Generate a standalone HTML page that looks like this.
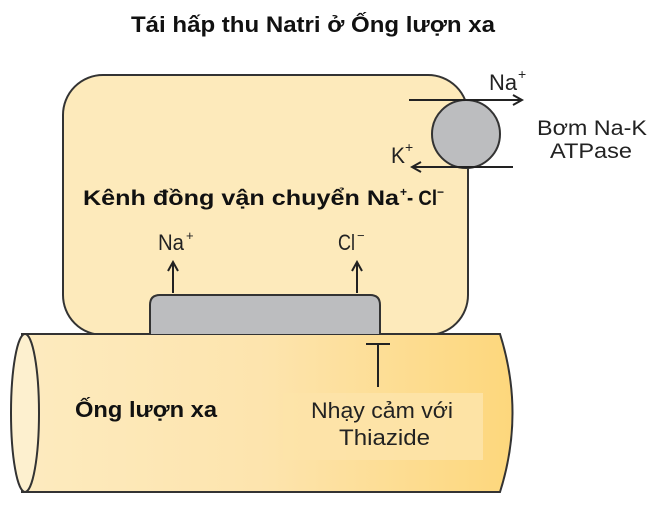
<!DOCTYPE html>
<html><head><meta charset="utf-8"><style>body{margin:0;background:#fff}svg{display:block}text{font-family:"Liberation Sans",Arial,sans-serif}</style></head><body>
<svg width="662" height="507" viewBox="0 0 662 507">
<defs>
<linearGradient id="tg" x1="0" x2="1" y1="0" y2="0">
<stop offset="0" stop-color="#fdebbf"/><stop offset="0.5" stop-color="#fde4ad"/><stop offset="1" stop-color="#fdd77c"/></linearGradient>
<marker id="ah" markerWidth="12" markerHeight="12" refX="10" refY="6" orient="auto" markerUnits="userSpaceOnUse"><path d="M1,1 L10,6 L1,11" fill="none" stroke="#222" stroke-width="2"/></marker>
</defs>
<text x="131" y="32" font-size="22" font-weight="bold" fill="#111" textLength="364" lengthAdjust="spacingAndGlyphs">Tái hấp thu Natri ở Ống lượn xa</text>
<rect x="63" y="75" width="405" height="260" rx="40" fill="#fdeabb" stroke="#333" stroke-width="2"/>
<path d="M22,334 L500,334 Q525,413 500,492 L22,492 Z" fill="url(#tg)" stroke="#333" stroke-width="2"/>
<ellipse cx="25" cy="413" rx="14" ry="79" fill="#fdf0cf" stroke="#333" stroke-width="2"/>
<rect x="283" y="393" width="200" height="67" fill="#fde3a8" opacity="0.9"/>
<path d="M150,334 L150,305 Q150,295 160,295 L370,295 Q380,295 380,305 L380,334" fill="#bcbdbf" stroke="#333" stroke-width="2"/>
<line x1="173" y1="293" x2="173" y2="262" stroke="#222" stroke-width="2" marker-end="url(#ah)"/>
<line x1="357" y1="293" x2="357" y2="262" stroke="#222" stroke-width="2" marker-end="url(#ah)"/>
<text x="158" y="250" font-size="22" fill="#222" textLength="26" lengthAdjust="spacingAndGlyphs">Na</text><text x="186" y="240" font-size="13" fill="#222">+</text>
<text x="338" y="250" font-size="22" fill="#222" textLength="17" lengthAdjust="spacingAndGlyphs">Cl</text><text x="357" y="240" font-size="13" fill="#222">−</text>
<text x="83" y="205" font-size="21" font-weight="bold" fill="#111" textLength="316" lengthAdjust="spacingAndGlyphs">Kênh đồng vận chuyển Na</text>
<text x="400" y="196" font-size="12" font-weight="bold" fill="#111">+</text>
<text x="407" y="205" font-size="21" font-weight="bold" fill="#111" textLength="30" lengthAdjust="spacingAndGlyphs">- Cl</text>
<text x="437" y="196" font-size="12" font-weight="bold" fill="#111">−</text>
<line x1="366" y1="344" x2="390" y2="344" stroke="#222" stroke-width="2"/>
<line x1="378" y1="344" x2="378" y2="387" stroke="#222" stroke-width="2"/>
<text x="75" y="417" font-size="22" font-weight="bold" fill="#111" textLength="142" lengthAdjust="spacingAndGlyphs">Ống lượn xa</text>
<text x="311" y="418" font-size="22" fill="#222" textLength="142" lengthAdjust="spacingAndGlyphs">Nhạy cảm với</text>
<text x="339" y="445" font-size="22" fill="#222" textLength="91" lengthAdjust="spacingAndGlyphs">Thiazide</text>
<circle cx="466" cy="134" r="34" fill="#bcbdbf" stroke="#333" stroke-width="2"/>
<line x1="409" y1="100" x2="522" y2="100" stroke="#222" stroke-width="2" marker-end="url(#ah)"/>
<line x1="513" y1="167" x2="412" y2="167" stroke="#222" stroke-width="2" marker-end="url(#ah)"/>
<text x="489" y="90" font-size="22" fill="#222" textLength="28" lengthAdjust="spacingAndGlyphs">Na</text><text x="518" y="79" font-size="14" fill="#222">+</text>
<text x="391" y="163" font-size="22" fill="#222" textLength="14" lengthAdjust="spacingAndGlyphs">K</text><text x="405" y="152" font-size="14" fill="#222">+</text>
<text x="537" y="135" font-size="21" fill="#222" textLength="110" lengthAdjust="spacingAndGlyphs">Bơm Na-K</text>
<text x="550" y="158" font-size="21" fill="#222" textLength="82" lengthAdjust="spacingAndGlyphs">ATPase</text>
</svg>
</body></html>
